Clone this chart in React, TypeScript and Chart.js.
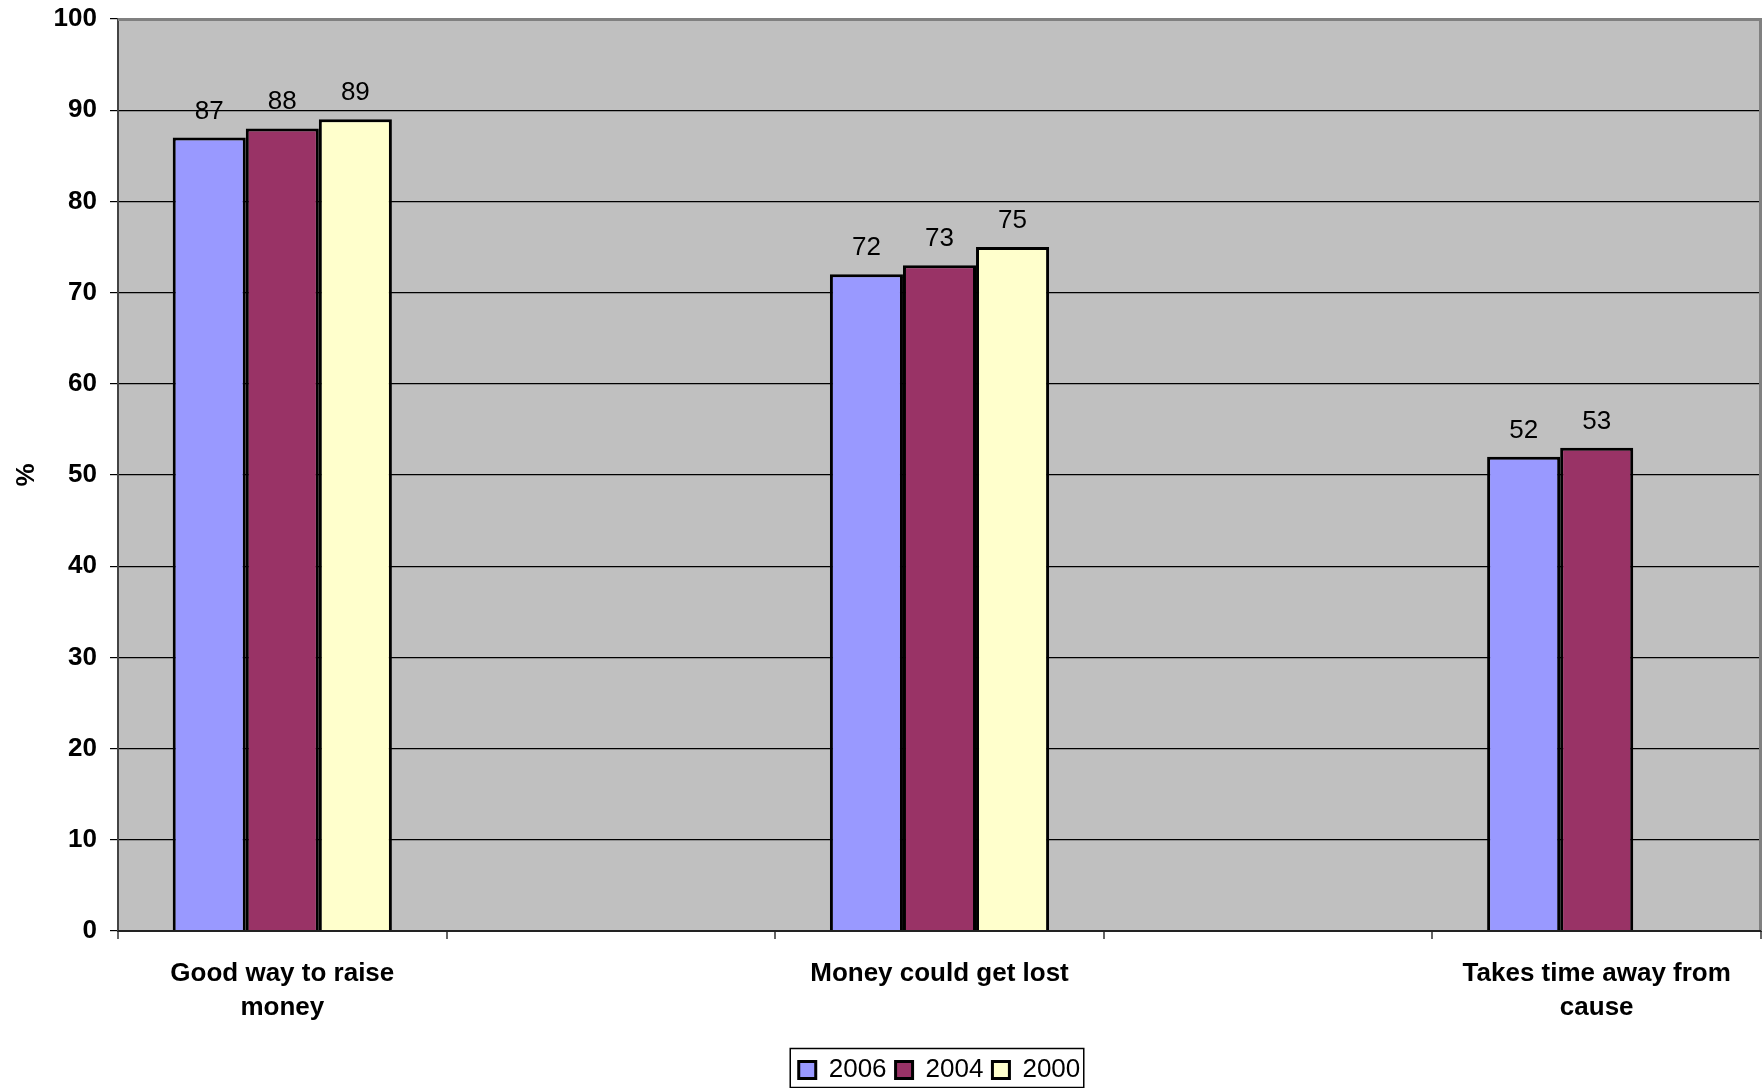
import React, { useEffect, useRef } from "react";
import { Chart, registerables } from "chart.js";

Chart.register(...registerables);

const categories: (string | string[])[] = [
  ["Good way to raise", "money"],
  "",
  "Money could get lost",
  "",
  ["Takes time away from", "cause"],
];
const seriesNames = ["2006", "2004", "2000"];
const values2006: (number | null)[] = [87, null, 72, null, 52];
const values2004: (number | null)[] = [88, null, 73, null, 53];
const values2000: (number | null)[] = [89, null, 75, null, null];
const seriesColors = ["#9999FF", "#993366", "#FFFFCC"];
const yMin = 0;
const yMax = 100;
const yStep = 10;
const yTitle = "%";

const FONT = "'Liberation Sans', Arial, sans-serif";

const plotBackground = {
  id: "plotBackground",
  beforeDraw(chart: any) {
    const { ctx, chartArea } = chart;
    const { left, top, right, bottom } = chartArea;
    ctx.save();
    ctx.fillStyle = "#C0C0C0";
    ctx.fillRect(left, top, right - left, bottom - top);
    ctx.restore();
  },
};

const frameAndLabels = {
  id: "frameAndLabels",
  afterDatasetsDraw(chart: any) {
    const { ctx, chartArea } = chart;
    const { left, top, right, bottom } = chartArea;
    ctx.save();
    ctx.fillStyle = "#000";
    ctx.font = `26px ${FONT}`;
    ctx.textAlign = "center";
    ctx.textBaseline = "alphabetic";
    chart.data.datasets.forEach((ds: any, i: number) => {
      const meta = chart.getDatasetMeta(i);
      meta.data.forEach((el: any, j: number) => {
        const v = ds.data[j];
        if (v === null || v === undefined) return;
        ctx.fillText(String(v), el.x, el.y - 19);
      });
    });
    ctx.strokeStyle = "#808080";
    ctx.lineWidth = 3;
    ctx.beginPath();
    ctx.moveTo(left, top + 0.5);
    ctx.lineTo(right - 0.5, top + 0.5);
    ctx.lineTo(right - 0.5, bottom);
    ctx.stroke();
    ctx.strokeStyle = "#222";
    ctx.lineWidth = 2;
    ctx.beginPath();
    ctx.moveTo(left, bottom);
    ctx.lineTo(right, bottom);
    ctx.stroke();
    ctx.restore();
  },
};

const legendBorder = {
  id: "legendBorder",
  afterDraw(chart: any) {
    const legend = chart.legend;
    if (!legend || !legend.legendHitBoxes || !legend.legendHitBoxes.length) return;
    const hb = legend.legendHitBoxes;
    const first = hb[0];
    const last = hb[hb.length - 1];
    const x1 = first.left - 9;
    const x2 = last.left + last.width + 3;
    const cy = first.top + first.height / 2;
    const y1 = cy - 22;
    const y2 = chart.height - 1;
    const { ctx } = chart;
    ctx.save();
    ctx.strokeStyle = "#000";
    ctx.lineWidth = 1.5;
    ctx.strokeRect(x1 + 0.5, y1 + 0.5, x2 - x1, y2 - y1);
    ctx.restore();
  },
};

export default function App() {
  const ref = useRef<HTMLCanvasElement | null>(null);

  useEffect(() => {
    document.body.style.margin = "0";
    const canvas = ref.current;
    if (!canvas) return;
    const seriesValues = [values2006, values2004, values2000];
    const chart = new Chart(canvas, {
      type: "bar",
      data: {
        labels: categories,
        datasets: seriesNames.map((name, i) => ({
          label: name,
          data: seriesValues[i],
          backgroundColor: seriesColors[i],
          borderColor: "#000",
          borderWidth: 3,
          categoryPercentage: 0.667,
          barPercentage: 1.0,
        })),
      },
      options: {
        animation: false,
        responsive: false,
        devicePixelRatio: 1,
        layout: { padding: { top: 19, right: 1, left: 0, bottom: -5 } },
        plugins: {
          legend: {
            position: "bottom",
            fullSize: false,
            labels: {
              color: "#000",
              font: { family: FONT, size: 26 },
              boxWidth: 17,
              boxHeight: 17,
              padding: 9,
            },
          },
          tooltip: { enabled: false },
        },
        scales: {
          x: {
            grid: {
              display: true,
              drawOnChartArea: false,
              drawTicks: true,
              tickLength: 8,
              color: "#666",
              lineWidth: 2,
              offset: true,
            },
            border: { display: true, color: "#222", width: 2 },
            ticks: {
              color: "#000",
              font: { family: FONT, size: 26, weight: "bold", lineHeight: 1.3 },
              padding: 18,
              maxRotation: 0,
              autoSkip: false,
            },
            afterFit(scale: any) {
              scale.height = 117;
            },
          },
          y: {
            min: yMin,
            max: yMax,
            ticks: {
              stepSize: yStep,
              color: "#000",
              font: { family: FONT, size: 26, weight: "bold" },
              padding: 13,
            },
            grid: {
              color: "#000",
              lineWidth: 1.2,
              tickLength: 8,
            },
            border: { display: true, color: "#444", width: 2 },
            title: {
              display: true,
              text: yTitle,
              color: "#000",
              font: { family: FONT, size: 26, weight: "bold", lineHeight: 1.2 },
              padding: { top: 11, bottom: 4 },
            },
            afterFit(scale: any) {
              scale.width = 118;
              scale.paddingTop = 0;
              scale.paddingBottom = 0;
            },
          },
        },
      },
      plugins: [plotBackground, frameAndLabels, legendBorder],
    });
    return () => chart.destroy();
  }, []);

  return (
    <div style={{ width: 1762, height: 1088 }}>
      <canvas ref={ref} width={1762} height={1088} style={{ display: "block" }} />
    </div>
  );
}
